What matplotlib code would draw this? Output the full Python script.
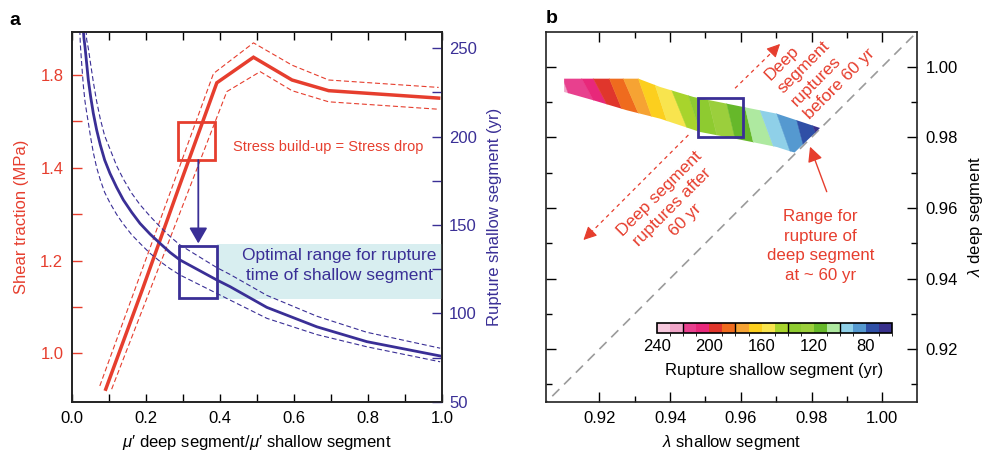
import matplotlib
matplotlib.use('Agg')
import matplotlib.pyplot as plt
from matplotlib.patches import Rectangle, Polygon
from matplotlib.colors import ListedColormap, BoundaryNorm
from matplotlib.cm import ScalarMappable
from matplotlib.ticker import FixedLocator

plt.rcParams['font.family'] = ['Liberation Sans', 'DejaVu Sans']
plt.rcParams['mathtext.fontset'] = 'custom'
plt.rcParams['mathtext.rm'] = 'Liberation Sans'
plt.rcParams['mathtext.it'] = 'Liberation Sans:italic'

RED = '#e63e2e'
BLUE = '#3a2f96'
BAND = '#d8eef0'

# ---------------- Panel a data ----------------
# shear traction (MPa, axis units) vs mu' ratio
red_x = [0.092, 0.192, 0.292, 0.392, 0.491, 0.595, 0.694, 0.991]
red_mid = [0.923, 1.140, 1.363, 1.583, 1.638, 1.589, 1.566, 1.550]
red_up_x = [0.076, 0.383, 0.491, 0.595, 0.694, 0.991]
red_up = [0.930, 1.603, 1.669, 1.621, 1.589, 1.573]
red_lo_x = [0.108, 0.419, 0.509, 0.595, 0.694, 0.991]
red_lo = [0.923, 1.564, 1.607, 1.566, 1.542, 1.526]
shear_ticks = [1.0, 1.2, 1.4, 1.6]
shear_tick_labels = ['1.0', '1.2', '1.4', '1.8']

# rupture time of shallow segment (yr)
blue_x = [0.0314, 0.0332, 0.0360, 0.0405, 0.0450, 0.0513, 0.0585, 0.0675, 0.0774,
          0.0891, 0.1035, 0.1215, 0.1396, 0.1621, 0.1846, 0.2116, 0.2387, 0.2657,
          0.2927, 0.392, 0.428, 0.527, 0.662, 0.797, 0.995]
blue_mid = [260.4, 255.6, 250.9, 241.5, 232.1, 222.6, 213.2, 203.8, 195.3,
            186.8, 179.2, 171.3, 164.2, 157.2, 150.9, 144.9, 139.6, 134.5,
            130.2, 118.9, 115.1, 103.4, 92.4, 84.0, 75.9]
blue_up_x = [0.039, 0.0405, 0.045, 0.0513, 0.0585, 0.0675, 0.0774, 0.0891, 0.1035,
             0.1215, 0.1396, 0.1621, 0.1846, 0.2116, 0.2387, 0.2657, 0.2927, 0.392,
             0.428, 0.527, 0.662, 0.797, 0.995]
blue_up = [260.4, 255.0, 250.0, 241.0, 231.0, 220.0, 210.0, 200.5, 193.0,
           183.5, 176.0, 168.0, 161.5, 155.0, 149.0, 143.5, 138.7, 125.9,
           122.0, 110.2, 98.4, 89.3, 80.3]
blue_lo_x = [0.022, 0.0235, 0.027, 0.0315, 0.036, 0.041, 0.045, 0.0513, 0.0585,
             0.0675, 0.0774, 0.0891, 0.1035, 0.1215, 0.1396, 0.1621, 0.1846, 0.2116,
             0.2387, 0.2657, 0.2927, 0.392, 0.428, 0.527, 0.662, 0.797, 0.995]
blue_lo = [260.4, 252.0, 241.5, 229.0, 220.0, 213.0, 208.0, 199.5, 191.0,
           182.5, 175.5, 168.5, 162.5, 156.0, 150.5, 144.5, 139.6, 134.0,
           129.4, 125.3, 121.7, 111.3, 107.5, 97.2, 88.0, 81.1, 72.6]

red_box = (0.2865, 1.417, 0.3873, 1.498)      # x0, y0, x1, y1
blue_box = (0.2908, 108.9, 0.3919, 138.3)
optimal_band = (0.3919, 108.1, 1.0, 139.2)
arrow_x, arrow_from, arrow_to = 0.342, 186.8, 139.6

# ---------------- Panel b data ----------------
cbar_levels = [240, 230, 220, 210, 200, 190, 180, 170, 160, 150, 140, 130, 120,
               110, 100, 90, 80, 70, 60]
cbar_colors = ['#f6c8dd', '#f0a5c8', '#e8408e', '#e8287a', '#e0362c', '#ef6b1e',
               '#f6a333', '#fccf1e', '#f8e44e', '#a8d42c', '#8ecb30', '#9bcf3c',
               '#66b82a', '#aee9a0', '#8fd0e8', '#5599d0', '#2f4fa6', '#38308c']
cbar_ticks = [240, 200, 160, 120, 80]
cbar_sep = [220, 180, 140, 100]

band_top_x = [0.91002, 0.93102, 0.93716, 0.94657, 0.96071, 0.97015, 0.98239]
band_top_y = [0.99660, 0.99660, 0.99425, 0.99142, 0.98858, 0.98669, 0.98263]
band_bot_x = [0.91002, 0.91830, 0.92775, 0.93716, 0.94847, 0.96071, 0.97015,
              0.97391, 0.97520]
band_bot_y = [0.99283, 0.99048, 0.98765, 0.98527, 0.98150, 0.97915, 0.97725,
              0.97603, 0.97570]

# stripe boundaries: (top x, top y, bottom x, bottom y)
bnd_top_x = [0.90965, 0.91502, 0.91830, 0.92283, 0.92678, 0.93102, 0.93575, 0.94047,
             0.94516, 0.95081, 0.95601, 0.96119, 0.96543, 0.97015, 0.97580, 0.98041]
bnd_top_y = [0.99660, 0.99660, 0.99660, 0.99660, 0.99660, 0.99660, 0.99479, 0.99326,
             0.99184, 0.99057, 0.98952, 0.98850, 0.98762, 0.98669, 0.98482, 0.98320]
bnd_bot_x = [0.91115, 0.91830, 0.92209, 0.92633, 0.93102, 0.93481, 0.93905, 0.94471,
             0.94847, 0.95319, 0.95836, 0.96353, 0.96919, 0.97391, 0.97815, 0.98182]
bnd_bot_y = [0.99255, 0.99048, 0.98932, 0.98807, 0.98680, 0.98586, 0.98465, 0.98275,
             0.98150, 0.98057, 0.97960, 0.97858, 0.97745, 0.97603, 0.97584, 0.97924]
stripe_values = [225, 215, 205, 195, 185, 175, 165, 155, 145, 135, 125, 115, 105,
                 95, 85, 75, 65]

b_box = (0.94799, 0.98008, 0.96054, 0.99113)

# ---------------- Figure ----------------
fig = plt.figure(figsize=(9.87, 4.55), dpi=100)

ax1 = fig.add_axes([0.0726, 0.1171, 0.3752, 0.8132])
ax2 = ax1.twinx()

ax1.set_xlim(0, 1.0)
ax1.set_ylim(0.896, 1.693)
ax2.set_ylim(50, 259.4)

dash = (0, (4.5, 2.5))
ax1.plot(red_up_x, red_up, color=RED, lw=0.8, ls=dash)
ax1.plot(red_lo_x, red_lo, color=RED, lw=0.8, ls=dash)
ax1.plot(red_x, red_mid, color=RED, lw=2.5, solid_joinstyle='miter')
ax1.add_patch(Rectangle((red_box[0], red_box[1]), red_box[2] - red_box[0],
                        red_box[3] - red_box[1], fill=False, ec=RED, lw=2))
ax1.text(0.6914, 1.445, 'Stress build-up = Stress drop', color=RED, fontsize=10.5,
         ha='center', va='center')

ax2.add_patch(Rectangle((optimal_band[0], optimal_band[1]), optimal_band[2] - optimal_band[0],
                        optimal_band[3] - optimal_band[1], fc=BAND, ec='none', zorder=0))
ax2.plot(blue_up_x, blue_up, color=BLUE, lw=0.8, ls=dash)
ax2.plot(blue_lo_x, blue_lo, color=BLUE, lw=0.8, ls=dash)
ax2.plot(blue_x, blue_mid, color=BLUE, lw=2.0)
ax2.add_patch(Rectangle((blue_box[0], blue_box[1]), blue_box[2] - blue_box[0],
                        blue_box[3] - blue_box[1], fill=False, ec=BLUE, lw=2))
ax2.annotate('', xy=(arrow_x, arrow_to), xytext=(arrow_x, arrow_from),
             arrowprops=dict(arrowstyle='-|>,head_length=0.95,head_width=0.55',
                             color=BLUE, lw=1.3, shrinkA=0, shrinkB=0, mutation_scale=10))
ax2.text(0.723, 126.9, 'Optimal range for rupture\ntime of shallow segment', color=BLUE,
         fontsize=12.5, ha='center', va='center', linespacing=1.42)

ax1.set_xticks([0.0, 0.2, 0.4, 0.6, 0.8, 1.0])
ax1.xaxis.set_minor_locator(FixedLocator([0.1, 0.3, 0.5, 0.7, 0.9]))
ax1.tick_params(axis='x', which='both', direction='in', top=True, bottom=True,
                length=6, width=1, labelsize=12, pad=7)
ax1.set_yticks(shear_ticks)
ax1.set_yticklabels(shear_tick_labels)
ax1.yaxis.set_minor_locator(FixedLocator([1.1, 1.3, 1.5]))
ax1.tick_params(axis='y', which='both', direction='in', length=7, width=1,
                colors=RED, labelsize=12, pad=6)
ax2.set_yticks([50, 100, 150, 200, 250])
ax2.yaxis.set_minor_locator(FixedLocator([75, 125, 175, 225]))
ax2.tick_params(axis='y', which='both', direction='in', length=7, width=1,
                colors=BLUE, labelsize=12, pad=5)
for ax in (ax1, ax2):
    for s in ax.spines.values():
        s.set_linewidth(1.2)
        s.set_color('#222222')

ax1.set_xlabel('$\\mu$\u2032 deep segment/$\\mu$\u2032 shallow segment', fontsize=12, labelpad=5)
ax1.set_ylabel('Shear traction (MPa)', fontsize=12, color=RED, labelpad=8)
ax2.set_ylabel('Rupture shallow segment (yr)', fontsize=12, color=BLUE, labelpad=7)

# ---------------- Panel b ----------------
ax3 = fig.add_axes([0.5532, 0.1171, 0.3762, 0.8132])
ax3.set_xlim(0.9049, 1.0099)
ax3.set_ylim(0.9051, 1.0099)
ax3.plot([0.90, 1.02], [0.90, 1.02], color='#9b9b9b', lw=1.2, ls=(0, (6, 4)), zorder=1)

cmap = ListedColormap(cbar_colors[::-1])
norm = BoundaryNorm(cbar_levels[::-1], cmap.N)

band_poly = list(zip(band_top_x, band_top_y)) + list(zip(band_bot_x, band_bot_y))[::-1]
band_patch = Polygon(band_poly, closed=True, fill=False, lw=0, transform=ax3.transData)
ax3.add_patch(band_patch)

def ext(i):
    tx, ty, bx, by = bnd_top_x[i], bnd_top_y[i], bnd_bot_x[i], bnd_bot_y[i]
    dx, dy = bx - tx, by - ty
    return (tx - 0.4 * dx, ty - 0.4 * dy), (bx + 0.4 * dx, by + 0.4 * dy)

bounds = [((0.900, 1.000), (0.900, 0.975))]
bounds += [ext(i) for i in range(len(bnd_top_x))]
bounds += [((0.995, 1.000), (0.995, 0.970))]
for k, val in enumerate(stripe_values):
    (t0, b0), (t1, b1) = bounds[k], bounds[k + 1]
    p = Polygon([t0, t1, b1, b0], closed=True, fc=cmap(norm(val)), ec=cmap(norm(val)),
                lw=0.3, zorder=2)
    ax3.add_patch(p)
    p.set_clip_path(band_patch)

ax3.add_patch(Rectangle((b_box[0], b_box[1]), b_box[2] - b_box[0], b_box[3] - b_box[1],
                        fill=False, ec=BLUE, lw=2, zorder=4))

# annotations
def head(ax, tip, back, color):
    ax.annotate('', xy=tip, xytext=back,
                arrowprops=dict(arrowstyle='-|>,head_length=0.8,head_width=0.4',
                                color=color, lw=0.8, shrinkA=0, shrinkB=0,
                                mutation_scale=10))

ax3.plot([0.95836, 0.9690], [0.99388, 1.0043], color=RED, lw=0.9, ls=(0, (3, 3)))
head(ax3, (0.97108, 1.00643), (0.9690, 1.0043), RED)
ax3.plot([0.94516, 0.9176], [0.98065, 0.9530], color=RED, lw=0.9, ls=(0, (3, 3)))
head(ax3, (0.91548, 0.95091), (0.9176, 0.9530), RED)
ax3.annotate('', xy=(0.97956, 0.97734), xytext=(0.98428, 0.96459),
             arrowprops=dict(arrowstyle='-|>,head_length=0.9,head_width=0.45',
                             color=RED, lw=1.0, shrinkA=0, shrinkB=0, mutation_scale=10))

ax3.text(0.98233, 1.00068, 'Deep\nsegment\nruptures\nbefore 60 yr', color=RED,
         fontsize=12.5, rotation=45, rotation_mode='anchor', ha='center', va='center',
         multialignment='left', linespacing=1.3)
ax3.text(0.94069, 0.96025, 'Deep segment\nruptures after\n60 yr', color=RED,
         fontsize=12.5, rotation=45, rotation_mode='anchor', ha='center', va='center',
         multialignment='center', linespacing=1.3)
ax3.text(0.98247, 0.94921, 'Range for\nrupture of\ndeep segment\nat ~ 60 yr', color=RED,
         fontsize=12.2, ha='center', va='center', multialignment='center', linespacing=1.38)

ax3.set_xticks([0.92, 0.94, 0.96, 0.98, 1.00])
ax3.set_xticklabels(['0.92', '0.94', '0.96', '0.98', '1.00'])
ax3.xaxis.set_minor_locator(FixedLocator([0.93, 0.95, 0.97, 0.99]))
ax3.set_yticks([0.92, 0.94, 0.96, 0.98, 1.00])
ax3.set_yticklabels(['0.92', '0.94', '0.96', '0.98', '1.00'])
ax3.yaxis.set_minor_locator(FixedLocator([0.91, 0.93, 0.95, 0.97, 0.99]))
ax3.tick_params(which='both', direction='in', top=True, bottom=True, left=True,
                right=True, labelleft=False, labelright=True, width=1, labelsize=12)
ax3.tick_params(which='major', length=7)
ax3.tick_params(which='minor', length=4.5)
ax3.tick_params(axis='x', pad=7)
ax3.tick_params(axis='y', pad=6)
ax3.yaxis.set_label_position('right')
for s in ax3.spines.values():
    s.set_linewidth(1.2)
    s.set_color('#222222')
ax3.set_xlabel('$\\lambda$ shallow segment', fontsize=12, labelpad=5)
ax3.set_ylabel('$\\lambda$ deep segment', fontsize=12, labelpad=6)

# colorbar
cax = fig.add_axes([0.666, 0.2681, 0.2375, 0.022])
cb = fig.colorbar(ScalarMappable(norm=norm, cmap=cmap), cax=cax, orientation='horizontal',
                  ticks=cbar_ticks)
cax.invert_xaxis()
cb.outline.set_linewidth(1.2)
for v in cbar_sep:
    cax.axvline(v, color='black', lw=1.0)
cax.tick_params(length=0, labelsize=12, pad=4)
cb.set_label('Rupture shallow segment (yr)', fontsize=12, labelpad=7)

fig.text(0.0152, 0.956, 'a', fontsize=14, fontweight='bold', ha='center', va='center')
fig.text(0.559, 0.9598, 'b', fontsize=14, fontweight='bold', ha='center', va='center')

fig.savefig('out.png', dpi=100)
